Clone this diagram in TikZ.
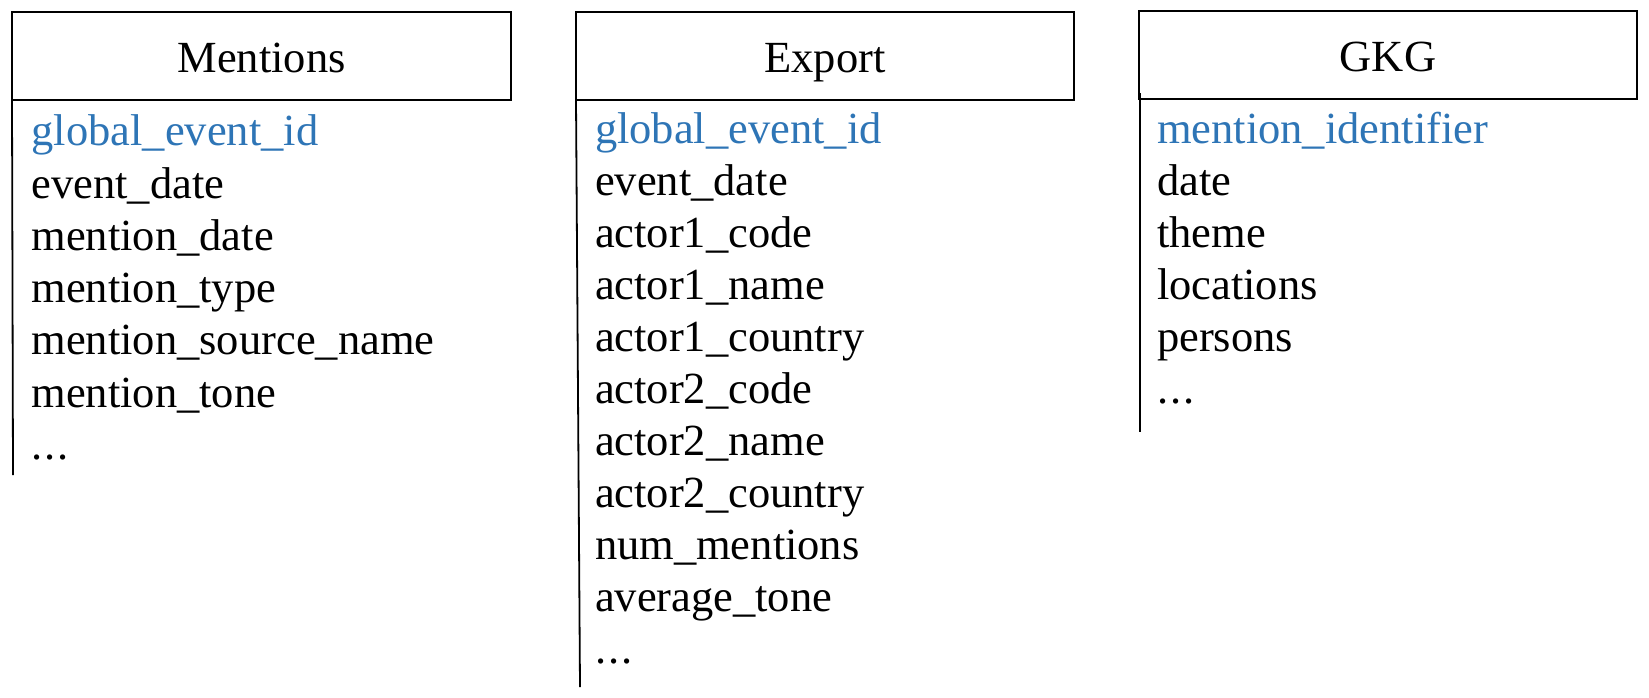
\documentclass[tikz,border=0pt]{standalone}
\usepackage{fontspec}
\setmainfont{Liberation Serif}
\definecolor{keyblue}{RGB}{46,117,182}
\newcommand\tabfont{\fontsize{44.5pt}{52pt}\selectfont}
\begin{document}
\begin{tikzpicture}[x=1pt,y=-1pt,
  titlebox/.style={draw, line width=1.8pt, outer sep=0pt, inner sep=0pt,
    minimum width=498pt, minimum height=88pt, text height=34pt, text depth=0pt, font=\tabfont},
  field/.style={anchor=base west, inner sep=0pt, outer sep=0pt, font=\tabfont},
  keyfield/.style={field, text=keyblue},
  rule/.style={line width=1.8pt}]
\useasboundingbox (0,0) rectangle (1649,698);

% ---- Mentions ----
\node[titlebox, minimum width=499pt] (mentions) at (261.5,56) {Mentions};
\coordinate (mend) at (13,475);
\draw[rule] (mentions.south west) -- (mend);
\node[keyfield] (m0) at (31.5,146) {global\_event\_id};
\foreach \t [count=\i from 1] in {event\_date, mention\_date, mention\_type,
    mention\_source\_name, mention\_tone}
  \node[field] (m\i) at (31.5,{146+52.2*\i}) {\t};
\node[field] (m6) at (31.5,459) {.\kern2pt.\kern2pt.};

% ---- Export ----
\node[titlebox] (export) at (825,56) {Export};
\coordinate (eend) at (580,687);
\draw[rule] (export.south west) -- (eend);
\node[keyfield] (e0) at (595,143) {global\_event\_id};
\foreach \t [count=\i from 1] in {event\_date, actor1\_code, actor1\_name,
    actor1\_country, actor2\_code, actor2\_name, actor2\_country,
    num\_mentions, average\_tone}
  \node[field] (e\i) at (595,{143+52*\i}) {\t};
\node[field] (e10) at (595,663) {.\kern2pt.\kern2pt.};

% ---- GKG ----
\node[titlebox] (gkg) at (1388,55) {GKG};
\coordinate (gend) at (1140,432);
\draw[rule] ([xshift=1pt,yshift=6pt]gkg.south west) -- (gend);
\node[keyfield] (g0) at (1157,143) {mention\_identifier};
\foreach \t [count=\i from 1] in {date, theme, locations, persons}
  \node[field] (g\i) at (1157,{143+52*\i}) {\t};
\node[field] (g5) at (1157,403) {.\kern2pt.\kern2pt.};
\end{tikzpicture}
\end{document}
